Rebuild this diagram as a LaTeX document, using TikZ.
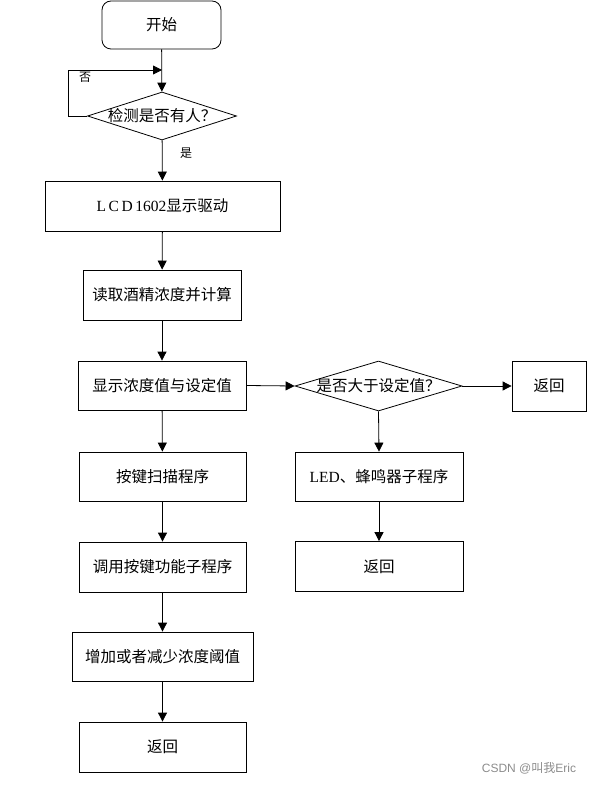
\documentclass[tikz,border=0pt]{standalone}
\usepackage{fontspec}
\setmainfont{Liberation Serif}
\newfontfamily\cjk{Noto Sans CJK SC}
\usetikzlibrary{shapes.geometric,arrows.meta}
\begin{document}
\begin{tikzpicture}[x=1pt,y=-1pt,
  every node/.style={font=\cjk\fontsize{15.5}{17}\selectfont, inner sep=0pt},
  boxx/.style={draw, line width=0.8pt, minimum height=49pt},
  decide/.style={draw, line width=0.8pt, shape=diamond, inner sep=0pt},
  arr/.style={line width=0.8pt, -{Triangle[length=9pt,width=9pt]}},
  lbl/.style={font=\cjk\fontsize{12}{13}\selectfont}
]
\useasboundingbox (0,0) rectangle (604,786);
\node[boxx, rounded corners=9pt, minimum width=119pt, minimum height=48pt] (start) at (161.5,25) {开始};
\node[decide, minimum width=149pt, minimum height=48pt] (d1) at (162,116) {};
\node (d1t) at (d1) {检测是否有人？};
\node[boxx, minimum width=235pt, minimum height=50pt] (lcd) at (162.5,206) {{\rmfamily L\,C\,D\,1602}显示驱动};
\node[boxx, minimum width=158pt, minimum height=50pt] (read) at (162,295) {读取酒精浓度并计算};
\node[boxx, minimum width=168pt] (show) at (162,385.5) {显示浓度值与设定值};
\node[boxx, minimum width=167pt] (scan) at (162.5,476.5) {按键扫描程序};
\node[boxx, minimum width=167pt, minimum height=50pt] (call) at (162.5,567) {调用按键功能子程序};
\node[boxx, minimum width=181pt] (adj) at (162.5,656.5) {增加或者减少浓度阈值};
\node[boxx, minimum width=167pt, minimum height=50pt] (ret1) at (162.5,747) {返回};
\node[decide, minimum width=167pt, minimum height=50pt] (d2) at (378.5,386) {};
\node (d2t) at (d2) {是否大于设定值？};
\node[boxx, minimum width=74pt, minimum height=50pt] (ret2) at (549,386) {返回};
\node[boxx, minimum width=168pt] (led) at (379,476.5) {{\rmfamily LED}、蜂鸣器子程序};
\node[boxx, minimum width=168pt, minimum height=50pt] (ret3) at (379,566.5) {返回};
\coordinate (lp) at (68,116);
\coordinate (lj) at (162,70);
\draw[arr] (start) -- (d1);
\draw[arr] (d1.west) -- (lp) |- (lj);
\node[lbl] at (85,77) {否};
\draw[arr] (d1) -- (lcd);
\node[lbl] at (186,153) {是};
\draw[arr] (lcd) -- (read);
\draw[arr] (read) -- (show);
\draw[arr] (show) -- (scan);
\draw[arr] (scan) -- (call);
\draw[arr] (call) -- (adj);
\draw[arr] (adj) -- (ret1);
\draw[arr] (show.east) -- (d2.west);
\draw[arr] (d2.east) -- (ret2.west);
\draw[arr] (d2.south) -- (led.north);
\draw[arr] (led) -- (ret3);
\node[font=\fontspec{Liberation Sans}\fontsize{12}{13}\selectfont, text=black!45] (wm) at (529,768) {CSDN @{\cjk 叫我}Eric};
\end{tikzpicture}
\end{document}
